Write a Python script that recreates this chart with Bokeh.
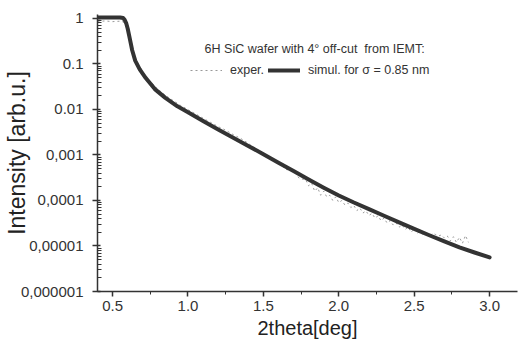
from bokeh.plotting import figure
from bokeh.models import (Range1d, FixedTicker, CustomJSTickFormatter, NumeralTickFormatter,
                          Legend, LegendItem, Label)
from bokeh.embed import file_html
from bokeh.resources import INLINE

# ---------------- data ----------------
sim_x = [0.40, 0.50, 0.55, 0.57, 0.58, 0.59, 0.60, 0.61, 0.62, 0.63, 0.65, 0.68, 0.72, 0.78,
         0.85, 0.93, 1.00, 1.10, 1.20, 1.30, 1.40, 1.50, 1.60, 1.70, 1.80, 1.90, 2.00, 2.10,
         2.20, 2.30, 2.40, 2.50, 2.60, 2.70, 2.80, 2.90, 3.00]
sim_y = [1.05, 1.05, 1.05, 1.02, 0.93, 0.79, 0.60, 0.42, 0.29, 0.20, 0.118, 0.076, 0.049,
         0.028, 0.018, 0.0117, 0.0087, 0.00556, 0.00363, 0.0024, 0.00158, 0.00104, 0.000676,
         0.000442, 0.000288, 0.000191, 0.000129, 0.0000902, 0.0000646, 0.0000462, 0.0000331,
         0.0000237, 0.0000172, 0.0000126, 0.0000093, 0.0000072, 0.0000056]

exp_x = [0.40, 0.45, 0.50, 0.55, 0.57, 0.59, 0.61, 0.63, 0.66, 0.70, 0.75, 0.80, 0.85, 0.90,
         0.95, 1.00, 1.05, 1.10, 1.15, 1.20, 1.25, 1.30, 1.35, 1.40, 1.45, 1.50, 1.55, 1.60,
         1.65, 1.70, 1.74, 1.78, 1.80, 1.82, 1.84, 1.86, 1.88, 1.90, 1.92, 1.94, 1.96, 1.98,
         2.00, 2.02, 2.04, 2.06, 2.08, 2.10, 2.12, 2.14, 2.16, 2.18, 2.20, 2.22, 2.24, 2.26,
         2.28, 2.30, 2.32, 2.34, 2.36, 2.38, 2.40, 2.42, 2.44, 2.46, 2.48, 2.50, 2.52, 2.54,
         2.56, 2.58, 2.60, 2.62, 2.64, 2.66, 2.68, 2.70, 2.72, 2.74, 2.76, 2.78, 2.80, 2.82,
         2.84, 2.86]
exp_y = [0.86, 0.88, 0.85, 0.87, 0.84, 0.72, 0.40, 0.21, 0.115, 0.066, 0.041, 0.028, 0.0205,
         0.0158, 0.0123, 0.0099, 0.0080, 0.0064, 0.0052, 0.0042, 0.0035, 0.0028, 0.0023,
         0.0018, 0.00135, 0.00106, 0.00080, 0.00068, 0.00048, 0.00045, 0.00030, 0.00029,
         0.00021, 0.00024, 0.00016, 0.00019, 0.00013, 0.00016, 0.00012, 0.00013, 0.00010,
         0.00012, 0.000090, 0.000100, 0.000080, 0.000088, 0.000070, 0.000077, 0.000060,
         0.000068, 0.000053, 0.000059, 0.000047, 0.000052, 0.000041, 0.000046, 0.000036,
         0.000041, 0.000032, 0.000036, 0.000029, 0.000032, 0.000026, 0.000029, 0.000023,
         0.000026, 0.000020, 0.000024, 0.000019, 0.000021, 0.000017, 0.000020, 0.000016,
         0.000019, 0.000018, 0.0000165, 0.0000175, 0.000015, 0.0000165, 0.000013, 0.000016,
         0.000012, 0.0000155, 0.0000115, 0.000017, 0.000012]

x_ticks = [0.5, 1.0, 1.5, 2.0, 2.5, 3.0]
x_minor = [0.75, 1.25, 1.75, 2.25, 2.75]
y_ticks = [1e-6, 1e-5, 1e-4, 1e-3, 1e-2, 1e-1, 1.0]
y_tick_labels = ["0,000001", "0,00001", "0,0001", "0,001", "0.01", "0.1", "1"]
y_minor = [m * t for t in y_ticks[:-1] for m in range(2, 10)]

title_text = "6H SiC wafer with 4\u00b0 off-cut\u00a0 from IEMT:"
exp_label = "exper."
sim_label = "simul. for \u03c3 = 0.85 nm"

FONT = "Liberation Sans"
TXT = "#333333"

p = figure(width=523, height=345, y_axis_type="log", output_backend="svg",
           toolbar_location=None, x_range=Range1d(0.4, 3.185), y_range=Range1d(1e-6, 1.22),
           min_border_left=97, min_border_right=6, min_border_top=14, min_border_bottom=54)
p.outline_line_color = None
p.xgrid.visible = False
p.ygrid.visible = False

r_exp = p.line(exp_x, exp_y, line_color="#999999", line_width=1, line_dash="2 3")
r_sim = p.line(sim_x, sim_y, line_color="#333333", line_width=4, line_join="round", line_cap="round")

# axes
for ax in (p.xaxis[0], p.yaxis[0]):
    ax.axis_line_color = "#333333"
    ax.axis_line_width = 1.5
    ax.major_tick_line_color = "#333333"
    ax.minor_tick_line_color = "#333333"
    ax.major_tick_line_width = 1.5
    ax.minor_tick_line_width = 1
    ax.major_label_text_font = FONT
    ax.major_label_text_font_size = "15px"
    ax.major_label_text_color = TXT
    ax.axis_label_text_font = FONT
    ax.axis_label_text_font_style = "normal"
    ax.axis_label_text_color = "#222222"

p.xaxis.ticker = FixedTicker(ticks=x_ticks, minor_ticks=x_minor)
p.xaxis.formatter = NumeralTickFormatter(format="0.0")
p.xaxis.major_tick_out = 5
p.xaxis.major_tick_in = 0
p.xaxis.minor_tick_out = 3
p.xaxis.minor_tick_in = 0
p.xaxis.major_label_standoff = 4
p.xaxis.axis_label = "2theta[deg]"
p.xaxis.axis_label_text_font_size = "20px"
p.xaxis.axis_label_standoff = 3

p.yaxis.ticker = FixedTicker(ticks=y_ticks, minor_ticks=y_minor)
p.yaxis.formatter = CustomJSTickFormatter(args=dict(labels=y_tick_labels),
    code="const i = Math.round(Math.log10(tick)) + 6; return labels[i];")
p.yaxis.major_tick_out = 5
p.yaxis.major_tick_in = 3
p.yaxis.minor_tick_out = 0
p.yaxis.minor_tick_in = 4
p.yaxis.major_label_standoff = 9
p.yaxis.axis_label = "Intensity [arb.u.]"
p.yaxis.axis_label_text_font_size = "23px"
p.yaxis.axis_label_standoff = -12

legend = Legend(items=[LegendItem(label=exp_label, renderers=[r_exp]),
                       LegendItem(label=sim_label, renderers=[r_sim])],
                orientation="horizontal", location=(93, 211),
                glyph_width=32, glyph_height=20, label_standoff=8, spacing=4,
                padding=0, margin=0, border_line_color=None, background_fill_alpha=0,
                label_text_font=FONT, label_text_font_size="12.5px", label_text_color=TXT)
p.add_layout(legend)

p.add_layout(Label(x=1.84, y=0.21, text=title_text, text_align="center", text_baseline="middle",
                   text_font=FONT, text_font_size="12.5px", text_color=TXT))

open("out.html", "w").write(file_html(p, INLINE))
